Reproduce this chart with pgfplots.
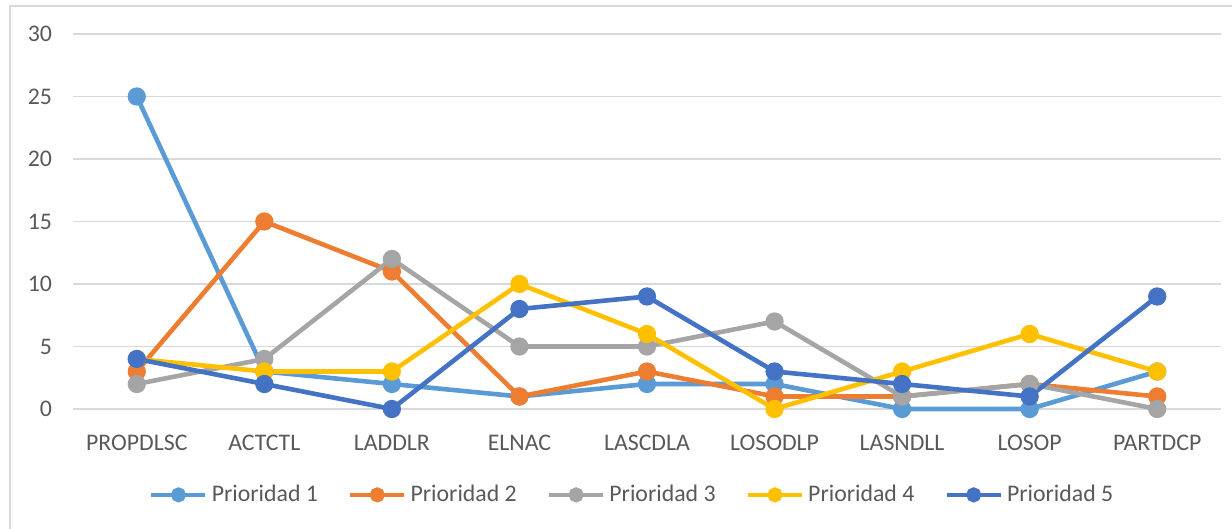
\documentclass[border=0pt]{standalone}
\usepackage{pgfplots}
\pgfplotsset{compat=1.18}
\usepackage{fontspec}
\setmainfont{Carlito}
\definecolor{p1}{HTML}{5B9BD5}
\definecolor{p2}{HTML}{ED7D31}
\definecolor{p3}{HTML}{A5A5A5}
\definecolor{p4}{HTML}{FFC000}
\definecolor{p5}{HTML}{4472C4}
\definecolor{txt}{HTML}{595959}
\definecolor{gridc}{HTML}{D9D9D9}
\begin{document}
\begin{tikzpicture}[x=1pt,y=1pt]
\useasboundingbox (0,0) rectangle (616,264.5);
\draw[gridc, line width=0.7pt] (5,0) -- (5,261.5) -- (616,261.5);
\begin{axis}[
  at={(36.5pt,60pt)}, anchor=south west,
  scale only axis, width=574pt, height=187.5pt,
  xmin=-0.5, xmax=8.5, ymin=0, ymax=30,
  xtick={0,...,8},
  xticklabels={PROPDLSC,ACTCTL,LADDLR,ELNAC,LASCDLA,LOSODLP,LASNDLL,LOSOP,PARTDCP},
  ytick={0,5,...,30},
  xmajorgrids=false,
  ymajorgrids=true, major grid style={draw=gridc, line width=0.6pt},
  axis line style={draw=none},
  major tick length=0pt,
  tick label style={font=\fontsize{11.9}{14}\selectfont, text=txt},
  xticklabel style={yshift=-9.5pt},
  yticklabel style={xshift=-7pt},
  /pgf/number format/assume math mode=true,
  clip=false,
  every axis plot/.append style={line width=2.3pt, mark=*, mark size=3.4pt, mark options={solid}},
  legend style={at={(0.488,-0.229)}, anchor=center, draw=none, fill=none,
    legend columns=5, font=\fontsize{11.9}{14}\selectfont, text=txt,
    /tikz/every even column/.append style={column sep=13pt}},
  legend image code/.code={
    \draw[#1, mark=none] (0pt,0pt) -- (27pt,0pt);
    \draw[#1, only marks, mark size=2.6pt] plot coordinates {(13.5pt,0pt)};
  },
]
\addplot[p1] coordinates {(0,25)(1,3)(2,2)(3,1)(4,2)(5,2)(6,0)(7,0)(8,3)};
\addlegendentry{Prioridad 1}
\addplot[p2] coordinates {(0,3)(1,15)(2,11)(3,1)(4,3)(5,1)(6,1)(7,2)(8,1)};
\addlegendentry{Prioridad 2}
\addplot[p3] coordinates {(0,2)(1,4)(2,12)(3,5)(4,5)(5,7)(6,1)(7,2)(8,0)};
\addlegendentry{Prioridad 3}
\addplot[p4] coordinates {(0,4)(1,3)(2,3)(3,10)(4,6)(5,0)(6,3)(7,6)(8,3)};
\addlegendentry{Prioridad 4}
\addplot[p5] coordinates {(0,4)(1,2)(2,0)(3,8)(4,9)(5,3)(6,2)(7,1)(8,9)};
\addlegendentry{Prioridad 5}
\end{axis}
\end{tikzpicture}
\end{document}
